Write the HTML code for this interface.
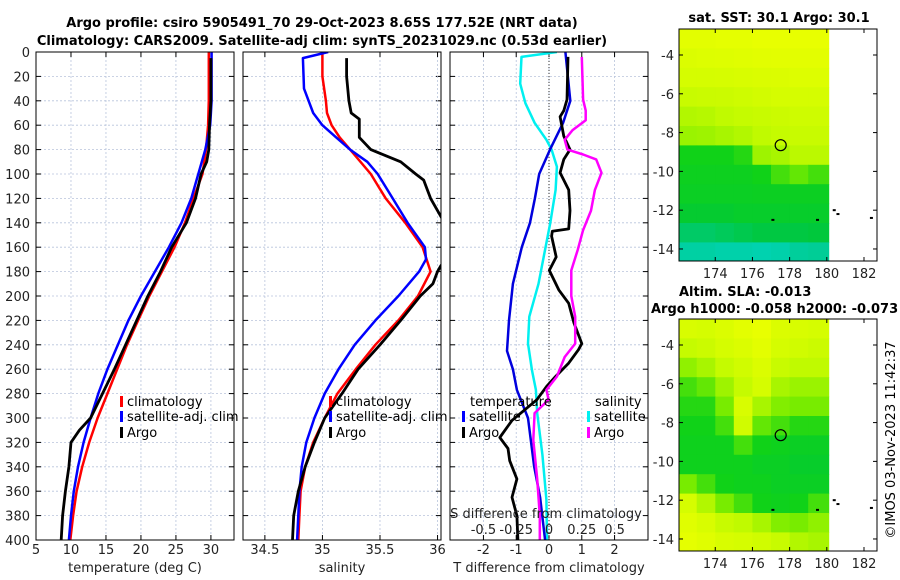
<!DOCTYPE html>
<html><head><meta charset="utf-8"><style>
html,body{margin:0;padding:0;background:#fff;}
svg{display:block;font-family:"DejaVu Sans","Liberation Sans",sans-serif;}
</style></head><body>
<svg id="fig" width="900" height="580" viewBox="0 0 900 580" xmlns="http://www.w3.org/2000/svg">
<rect width="900" height="580" fill="#fff"/>
<text x="322" y="27" text-anchor="middle" font-size="13" font-weight="bold">Argo profile: csiro 5905491_70 29-Oct-2023 8.65S 177.52E (NRT data)</text>
<text x="322" y="45" text-anchor="middle" font-size="13" font-weight="bold">Climatology: CARS2009. Satellite-adj clim: synTS_20231029.nc (0.53d earlier)</text>
<g id="plots"></g>
<text transform="translate(895,440) rotate(-90)" text-anchor="middle" font-size="13">©IMOS 03-Nov-2023 11:42:37</text>
</svg>
<script>
// ---------- data ----------
const depthTicks=[0,20,40,60,80,100,120,140,160,180,200,220,240,260,280,300,320,340,360,380,400];
const tTicks=[5,10,15,20,25,30];
const sTicks=[34.5,35,35.5,36];
const tdTicks=[-2,-1,0,1,2];
const sdTicks=[-0.5,-0.25,0,0.25,0.5];
const sdTickLabels=['-0.5','-0.25','0','0.25','0.5'];

const tClimD=[0,20,40,60,80,100,120,140,160,180,200,220,240,260,280,300,320,340,360,380,400];
const tClimV=[29.7,29.7,29.7,29.6,29.3,28.8,27.5,26.3,24.8,23.0,21.2,19.6,18.0,16.6,15.2,13.8,12.6,11.6,10.8,10.3,9.9];
const tSatV=[30.1,30.1,30.1,29.9,29.2,28.2,27.2,25.8,24.0,22.0,20.0,18.2,16.7,15.2,13.9,12.8,11.8,11.0,10.4,10.0,9.7];
const tArgoD=[5,40,60,80,90,100,120,140,160,180,200,220,240,260,280,300,310,320,340,360,380,400];
const tArgoV=[30.0,30.0,29.8,29.7,29.4,28.6,27.8,26.5,24.4,22.8,21.0,19.4,17.8,16.2,14.5,12.8,11.2,10.0,9.7,9.2,8.8,8.6];

const sClimD=[0,20,40,50,60,70,80,100,120,140,160,180,200,220,240,260,280,300,320,340,360,380,400];
const sClimV=[35.0,35.0,35.03,35.04,35.08,35.15,35.24,35.42,35.55,35.72,35.87,35.94,35.83,35.66,35.46,35.29,35.13,35.02,34.92,34.85,34.81,34.80,34.79];
const sSatD=[0,5,30,50,60,70,80,90,100,120,140,160,170,180,200,220,240,260,280,300,320,340,360,380,400];
const sSatV=[35.05,34.83,34.84,34.92,35.0,35.12,35.24,35.39,35.48,35.61,35.74,35.89,35.9,35.84,35.66,35.46,35.28,35.14,35.02,34.93,34.86,34.82,34.80,34.79,34.78];
const sArgoD=[5,20,40,50,55,70,80,85,90,100,105,110,120,130,135,150,165,175,180,190,200,220,240,260,280,300,320,340,360,380,400];
const sArgoV=[35.21,35.21,35.23,35.25,35.32,35.32,35.42,35.55,35.68,35.81,35.88,35.9,35.94,36.0,36.03,36.12,36.12,36.03,36.0,35.96,35.85,35.68,35.5,35.31,35.17,35.02,34.93,34.85,34.79,34.75,34.74];

const dtSatD=[0,40,58,80,100,120,140,160,190,220,245,260,277,300,340,365,400];
const dtSatV=[0.5,0.65,0.43,0.03,-0.3,-0.43,-0.58,-0.83,-1.1,-1.22,-1.28,-1.1,-0.98,-0.64,-0.45,-0.27,-0.12];
const dtArgoD=[4,39,48,53,69,80,88,99,113,130,145,147,151,168,179,195,206,222,239,244,255,266,274,285,302,316,325,335,350,365,380,400];
const dtArgoV=[0.58,0.55,0.45,0.34,0.45,0.64,0.45,0.34,0.6,0.64,0.6,0.1,0.08,0.22,0.01,0.3,0.6,0.76,1.0,0.9,0.6,0.2,-0.07,-0.37,-1.13,-1.5,-1.25,-1.2,-0.98,-1.13,-0.98,-0.95];
const dsSatD=[0,4,26,42,58,72,80,94,113,140,162,190,217,239,261,277,296,330,367,400];
const dsSatV=[0.06,-0.21,-0.22,-0.18,-0.11,-0.02,0.02,0.06,0.05,0.01,-0.03,-0.08,-0.15,-0.16,-0.13,-0.1,-0.09,-0.05,-0.02,-0.015];
const dsArgoD=[4,39,48,56,64,72,80,84,88,99,113,130,146,162,179,200,217,239,250,266,277,285,296,318,350,380,400];
const dsArgoV=[0.25,0.26,0.28,0.28,0.18,0.12,0.14,0.26,0.36,0.4,0.35,0.32,0.26,0.22,0.17,0.17,0.2,0.2,0.12,0.06,-0.02,-0.003,-0.11,-0.12,-0.09,-0.07,-0.07];

// maps: rows from north (-2.66) to south, 1 deg each; cols lon 172..180
const latTicks=[-4,-6,-8,-10,-12,-14];
const lonTicks=[174,176,178,180,182];
const sstGrid=[
[0.03,0.03,0.02,0.02,0.0,0.0,0.0,0.0],
[0.08,0.07,0.06,0.05,0.04,0.03,0.03,0.03],
[0.12,0.12,0.11,0.1,0.09,0.08,0.07,0.07],
[0.2,0.19,0.18,0.16,0.14,0.12,0.12,0.12],
[0.28,0.27,0.25,0.22,0.2,0.18,0.16,0.16],
[0.33,0.32,0.3,0.28,0.25,0.22,0.2,0.2],
[0.5,0.5,0.5,0.48,0.32,0.3,0.26,0.26],
[0.53,0.53,0.53,0.53,0.5,0.45,0.42,0.45],
[0.55,0.55,0.55,0.55,0.54,0.54,0.54,0.54],
[0.6,0.6,0.6,0.58,0.58,0.58,0.58,0.58],
[0.72,0.72,0.7,0.68,0.66,0.66,0.66,0.65],
[0.85,0.85,0.88,0.88,0.9,0.88,0.82,0.8]];
const slaGrid=[
[0.1,0.12,0.08,0.03,0.0,0.08,0.1,0.12],
[0.22,0.18,0.12,0.08,0.03,0.12,0.15,0.18],
[0.35,0.3,0.22,0.15,0.08,0.2,0.25,0.25],
[0.45,0.42,0.32,0.22,0.12,0.3,0.33,0.33],
[0.48,0.48,0.4,0.1,0.3,0.38,0.4,0.4],
[0.5,0.5,0.45,0.15,0.42,0.45,0.48,0.48],
[0.52,0.52,0.52,0.45,0.5,0.52,0.55,0.55],
[0.52,0.52,0.52,0.52,0.55,0.55,0.58,0.58],
[0.4,0.45,0.5,0.52,0.52,0.55,0.55,0.55],
[0.12,0.28,0.4,0.45,0.5,0.52,0.5,0.45],
[0.05,0.1,0.2,0.25,0.3,0.38,0.4,0.35],
[0.02,0.05,0.1,0.12,0.15,0.2,0.28,0.3]];
const argoLon=177.52, argoLat=-8.65;

// ---------- drawing ----------
const NS='http://www.w3.org/2000/svg';
const root=document.getElementById('plots');
function mk(tag,attrs,parent){const e=document.createElementNS(NS,tag);for(const k in attrs)e.setAttribute(k,attrs[k]);(parent||root).appendChild(e);return e;}
function txt(s,attrs,parent){const e=mk('text',attrs,parent);e.textContent=s;return e;}

const PT=52,PB=540;
const yD=d=>PT+(d/400)*(PB-PT);
function panel(id,x0,x1,vmin,vmax){return {id,x0,x1,f:v=>x0+(v-vmin)/(vmax-vmin)*(x1-x0)};}
const p1=panel('temp',36,234,5,33.3);
const p2=panel('sal',243,441,34.31,36.03);
const p3=panel('diff',450,648,-3.02,3.02);
const sdX=v=>p3.f(v*4);

function frame(p,xticks,xf){
  const g=mk('g',{});
  
  
  const cp=mk('clipPath',{id:'clip-'+p.id},g);
  mk('rect',{x:p.x0,y:PT,width:p.x1-p.x0,height:PB-PT},cp);
  depthTicks.forEach(d=>{const l=mk('line',{x1:p.x0,x2:p.x1,y1:yD(d),y2:yD(d),stroke:'#b8c4dc','stroke-width':0.8,'stroke-dasharray':'2,2'},g);
    
    mk('line',{x1:p.x0,x2:p.x0+5,y1:yD(d),y2:yD(d),stroke:'#000'},g);
    mk('line',{x1:p.x1-5,x2:p.x1,y1:yD(d),y2:yD(d),stroke:'#000'},g);});
  xticks.forEach(v=>{const x=xf(v);const l=mk('line',{x1:x,x2:x,y1:PT,y2:PB,stroke:'#b8c4dc','stroke-width':0.8,'stroke-dasharray':'2,2'},g);
    
    mk('line',{x1:x,x2:x,y1:PB-5,y2:PB,stroke:'#000'},g);
    mk('line',{x1:x,x2:x,y1:PT,y2:PT+5,stroke:'#000'},g);});
  return g;
}
function series(p,xf,ds,vs,color,w,name){
  const pts=ds.map((d,i)=>xf(vs[i]).toFixed(1)+','+yD(d).toFixed(1)).join(' ');
  const l=mk('polyline',{points:pts,fill:'none',stroke:color,'stroke-width':w,'stroke-linejoin':'round','clip-path':'url(#clip-'+p.id+')'});
  
  
}
function border(p){const r=mk('rect',{x:p.x0,y:PT,width:p.x1-p.x0,height:PB-PT,fill:'none',stroke:'#000','stroke-width':1});
  }
function legItem(x,y,label,color,name){
  const r=mk('rect',{x:x,y:y-10,width:3,height:11,fill:color});
  
  const t=txt(label,{x:x+7,y:y,'font-size':13});
  
}

// panel 1
frame(p1,tTicks,p1.f);
series(p1,p1.f,tClimD,tClimV,'#ff0000',2.5,'temp-climatology-line');
series(p1,p1.f,tClimD,tSatV,'#0000ff',2.5,'temp-satellite-line');
series(p1,p1.f,tArgoD,tArgoV,'#000',2.8,'temp-argo-line');
border(p1);
depthTicks.forEach(d=>{const t=txt(String(d),{x:30,y:yD(d)+5,'text-anchor':'end','font-size':13,fill:'#222'});
  });
tTicks.forEach(v=>{const t=txt(String(v),{x:p1.f(v),y:554,'text-anchor':'middle','font-size':13,fill:'#222'});
  });
let t=txt('temperature (deg C)',{x:135,y:572,'text-anchor':'middle','font-size':13,fill:'#222'});

legItem(120,406,'climatology','#ff0000','legend-climatology');
legItem(120,421,'satellite-adj. clim','#0000ff','legend-satellite');
legItem(120,437,'Argo','#000','legend-argo');

// panel 2
frame(p2,sTicks,p2.f);
series(p2,p2.f,sClimD,sClimV,'#ff0000',2.5,'sal-climatology-line');
series(p2,p2.f,sSatD,sSatV,'#0000ff',2.5,'sal-satellite-line');
series(p2,p2.f,sArgoD,sArgoV,'#000',2.8,'sal-argo-line');
border(p2);
sTicks.forEach(v=>{const t=txt(String(v),{x:p2.f(v),y:554,'text-anchor':'middle','font-size':13,fill:'#222'});
  });
t=txt('salinity',{x:342,y:572,'text-anchor':'middle','font-size':13,fill:'#222'});

legItem(329,406,'climatology','#ff0000','legend2-climatology');
legItem(329,421,'satellite-adj. clim','#0000ff','legend2-satellite');
legItem(329,437,'Argo','#000','legend2-argo');

// panel 3
frame(p3,tdTicks,p3.f);
const zl=mk('line',{x1:p3.f(0),x2:p3.f(0),y1:PT,y2:PB,stroke:'#333','stroke-width':1,'stroke-dasharray':'1,2'});

series(p3,sdX,dsSatD,dsSatV,'#00f0f0',2.5,'sal-diff-satellite-line');
series(p3,p3.f,dtSatD,dtSatV,'#0000dd',2.5,'temp-diff-satellite-line');
series(p3,p3.f,dtArgoD,dtArgoV,'#000',2.8,'temp-diff-argo-line');
series(p3,sdX,dsArgoD,dsArgoV,'#ff00ff',2.5,'sal-diff-argo-line');
border(p3);
t=txt('temperature',{x:470,y:406,'font-size':13});
legItem(462,421,'satellite','#0000ff','legend3-temp-satellite');
legItem(462,437,'Argo','#000','legend3-temp-argo');
t=txt('salinity',{x:595,y:406,'font-size':13});
legItem(587,421,'satellite','#00f0f0','legend3-sal-satellite');
legItem(587,437,'Argo','#ff00ff','legend3-sal-argo');
t=txt('S difference from climatology',{x:546,y:518,'text-anchor':'middle','font-size':13,fill:'#222'});

sdTicks.forEach((v,i)=>{const t=txt(sdTickLabels[i],{x:sdX(v),y:534,'text-anchor':'middle','font-size':13,fill:'#222'});
  });
tdTicks.forEach(v=>{const t=txt(String(v),{x:p3.f(v),y:554,'text-anchor':'middle','font-size':13,fill:'#222'});
  });
t=txt('T difference from climatology',{x:549,y:572,'text-anchor':'middle','font-size':13,fill:'#222'});


// ---------- maps ----------
const cmapStops=[[0,[232,255,0]],[0.25,[192,250,0]],[0.4,[120,236,0]],[0.5,[16,210,24]],[0.65,[0,200,60]],[0.8,[0,205,150]],[1,[0,215,200]]];
function cmap(v){for(let i=1;i<cmapStops.length;i++){if(v<=cmapStops[i][0]){const a=cmapStops[i-1],b=cmapStops[i];const f=(v-a[0])/(b[0]-a[0]);
  return 'rgb('+a[1].map((c,k)=>Math.round(c+(b[1][k]-c)*f)).join(',')+')';}}return 'rgb(0,215,200)';}
function drawMap(name,top,bottom,grid){
  const L=679,R=877,lonMin=172.05,lonMax=182.7,latTop=-2.66,latBot=-14.62;
  const xf=lo=>L+(lo-lonMin)/(lonMax-lonMin)*(R-L);
  const yf=la=>top+(latTop-la)/(latTop-latBot)*(bottom-top);
  const g=mk('g',{});
  grid.forEach((row,r)=>row.forEach((v,c)=>{
    const lo0=Math.max(lonMin,172+c), lo1=c==row.length-1?180.1:173+c;
    const la0=latTop-r, la1=r==grid.length-1?latBot:latTop-r-1;
    const cell=mk('rect',{x:xf(lo0).toFixed(1),y:yf(la0).toFixed(1),width:(xf(lo1)-xf(lo0)+0.5).toFixed(1),height:(yf(la1)-yf(la0)+0.5).toFixed(1),fill:cmap(v)},g);
    
  }));
  [[180.4,-12.0],[180.6,-12.2],[182.4,-12.4],[179.5,-12.5],[177.1,-12.5]].forEach(p=>{
    const s=mk('rect',{x:xf(p[0])-1.5,y:yf(p[1])-1,width:3,height:2,fill:'#000'},g);
    });
  const c=mk('circle',{cx:xf(argoLon),cy:yf(argoLat),r:5.5,fill:'none',stroke:'#000','stroke-width':1.2},g);
  
  const b=mk('rect',{x:L,y:top,width:R-L,height:bottom-top,fill:'none',stroke:'#000'},g);
  
  latTicks.forEach(la=>{const y=yf(la);mk('line',{x1:L,x2:L+4,y1:y,y2:y,stroke:'#000'},g);mk('line',{x1:R-4,x2:R,y1:y,y2:y,stroke:'#000'},g);
    const t=txt(String(la),{x:674,y:y+5,'text-anchor':'end','font-size':13,fill:'#222'},g);
    });
  lonTicks.forEach(lo=>{const x=xf(lo);mk('line',{x1:x,x2:x,y1:bottom-4,y2:bottom,stroke:'#000'},g);mk('line',{x1:x,x2:x,y1:top,y2:top+4,stroke:'#000'},g);
    const t=txt(String(lo),{x:x,y:bottom+17,'text-anchor':'middle','font-size':13,fill:'#222'},g);
    });
}
drawMap('sst-map',29,261,sstGrid);
drawMap('sla-map',319,551,slaGrid);
t=txt('sat. SST: 30.1 Argo: 30.1',{x:779,y:22,'text-anchor':'middle','font-size':13,'font-weight':'bold'});

t=txt('Altim. SLA: -0.013',{x:679,y:296,'font-size':13,'font-weight':'bold'});

t=txt('Argo h1000: -0.058 h2000: -0.073',{x:651,y:313,'font-size':13,'font-weight':'bold'});

</script>
</body></html>
